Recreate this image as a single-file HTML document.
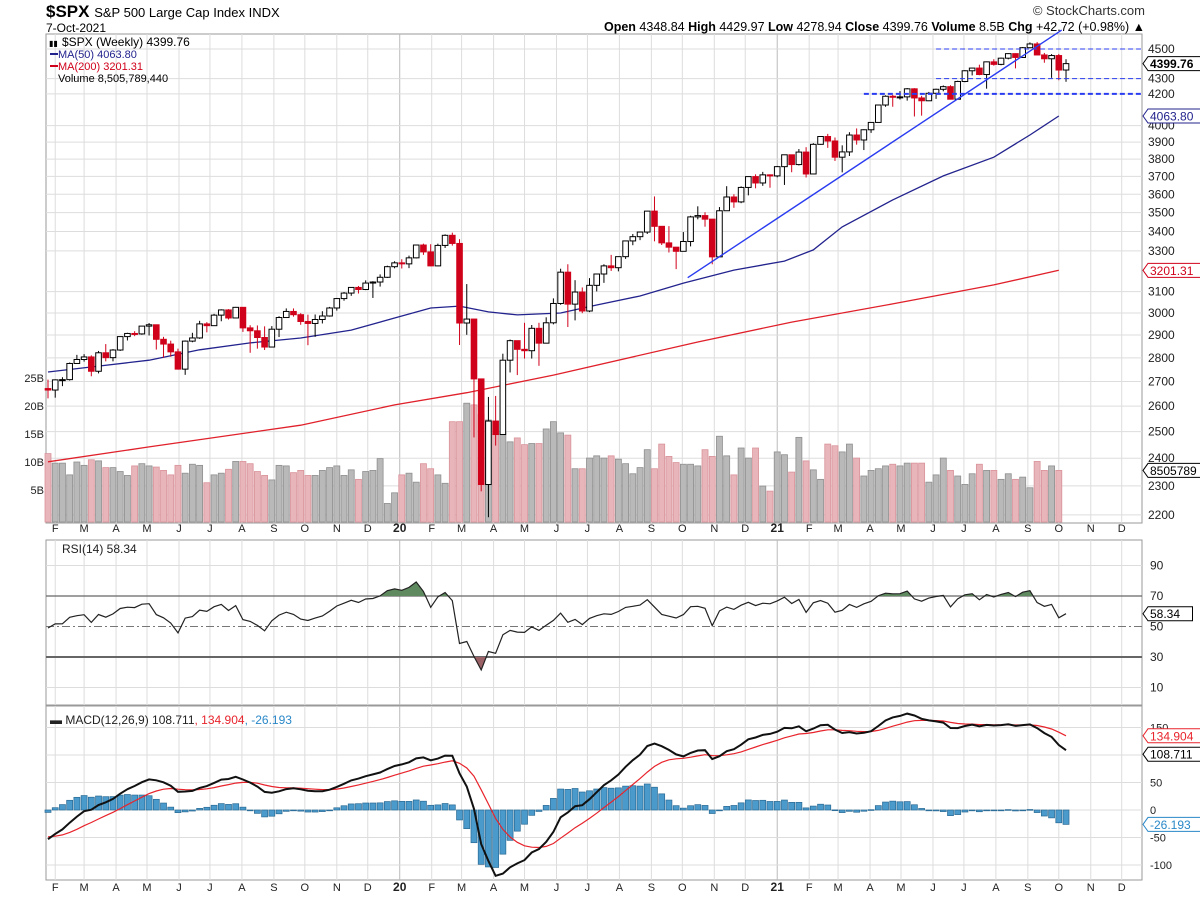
<!DOCTYPE html>
<html><head><meta charset="utf-8"><style>
body{margin:0;background:#fff;font-family:"Liberation Sans",sans-serif}
svg text{font-family:"Liberation Sans",sans-serif}
</style></head><body>
<svg id="c" width="1200" height="901" viewBox="0 0 1200 901" xmlns="http://www.w3.org/2000/svg">
<text x="46" y="17" font-size="17" font-weight="bold">$SPX <tspan font-size="13" font-weight="normal">S&amp;P 500 Large Cap Index INDX</tspan></text>
<text x="46" y="32" font-size="12">7-Oct-2021</text>
<text x="1145" y="15" font-size="13" text-anchor="end" fill="#333">© StockCharts.com</text>
<text x="1145" y="31" font-size="12.5" text-anchor="end"><tspan font-weight="bold">Open</tspan> 4348.84 <tspan font-weight="bold">High</tspan> 4429.97 <tspan font-weight="bold">Low</tspan> 4278.94 <tspan font-weight="bold">Close</tspan> 4399.76 <tspan font-weight="bold">Volume</tspan> 8.5B <tspan font-weight="bold">Chg</tspan> +42.72 (+0.98%) ▲</text>
<g id="g"></g>
</svg>
<script>
const warmupCloses=[2735,2779,2780,2755,2718,2760,2801,2802,2819,2840,2833,2850,2875,2902,2871,2905,2929,2914,2886,2767,2768,2659,2723,2781,2736,2633,2760,2633,2600,2417,2486,2532,2596,2671];
const closes=[2665,2707,2708,2776,2793,2804,2743,2822,2801,2834,2893,2907,2905,2940,2946,2881,2860,2826,2752,2873,2887,2950,2942,2990,3014,2977,3026,2932,2919,2889,2847,2926,2979,3007,2992,2961,2952,2970,2986,3023,3067,3093,3120,3110,3141,3146,3169,3221,3240,
3235,3265,3330,3295,3225,3328,3380,3338,2954,2972,2711,2305,2541,2489,2790,2875,2837,2831,2930,2864,2955,3044,3194,3041,3098,3009,3130,3185,3225,3216,3271,3351,3373,3397,3508,3427,3341,3319,3298,3348,3477,3484,3465,3270,3510,3585,3558,3638,3699,3663,3709,3703,3756,
3825,3768,3841,3714,3887,3934,3907,3811,3842,3943,3913,3975,4020,4129,4185,4180,4181,4233,4174,4156,4204,4230,4247,4166,4281,4352,4370,4327,4412,4395,4437,4468,4442,4509,4535,4459,4433,4455,4357,4400];
const highs=[2708,2709,2718,2780,2813,2816,2811,2830,2860,2838,2894,2910,2917,2940,2954,2937,2892,2875,2840,2876,2910,2964,2958,2996,3017,3018,3028,3027,2944,2943,2939,2940,2985,3021,3021,2999,2992,2993,3008,3028,3070,3098,3121,3127,3154,3150,3183,3226,3248,
3258,3276,3330,3337,3334,3337,3385,3394,3360,3136,2882,2614,2637,2641,2818,2880,2869,2955,2945,2955,2980,3068,3211,3233,3155,3120,3165,3187,3233,3280,3272,3352,3387,3399,3509,3588,3425,3428,3320,3397,3483,3534,3502,3466,3530,3645,3600,3644,3699,3712,3726,3712,3760,
3826,3826,3859,3870,3894,3937,3950,3928,3881,3960,3983,3978,4021,4129,4191,4194,4218,4238,4237,4188,4213,4234,4255,4256,4286,4356,4372,4393,4415,4430,4441,4470,4470,4514,4546,4549,4473,4465,4466,4430];
const lows=[2631,2634,2681,2704,2775,2784,2722,2734,2785,2785,2830,2876,2895,2901,2898,2836,2801,2805,2750,2728,2868,2883,2912,2943,2962,2970,2976,2914,2822,2840,2834,2853,2891,2979,2983,2946,2855,2892,2952,2983,3011,3057,3080,3091,3107,3070,3124,3166,3213,
3212,3214,3262,3280,3223,3223,3315,3327,2856,2901,2478,2281,2192,2447,2500,2738,2727,2797,2797,2766,2864,2948,3038,2936,2966,2999,3004,3101,3142,3200,3198,3260,3329,3355,3387,3349,3330,3292,3209,3323,3323,3464,3425,3233,3279,3511,3526,3551,3594,3633,3647,3636,3695,
3652,3724,3763,3694,3725,3885,3866,3789,3723,3818,3885,3853,3956,4020,4118,4118,4164,4157,4057,4062,4154,4168,4217,4165,4165,4276,4321,4322,4234,4386,4389,4429,4368,4441,4506,4458,4406,4305,4289,4279];
const volumesB=[11.5,9.8,9.8,7.7,10,9.4,10.4,10.2,9,9,8.3,7.6,9.3,9.7,9.3,9.1,8.5,7.7,9.4,8.0,9.6,9.4,6.3,7.7,8.0,8.7,10.1,10.1,9.7,8.3,7.6,6.8,9.4,9.3,8.1,8.5,7.6,7.6,8.5,9.0,9.3,7.6,8.6,6.9,8.3,8.5,10.6,2.6,4.5,
7.7,8.0,6.4,9.7,8.8,7.7,6.2,17.2,17.2,20.5,20.2,18.5,17.5,15.0,15.4,13.6,14.3,13.1,13.3,13.3,15.9,17.2,15.2,14.8,8.8,
8.8,10.7,11.1,10.7,11.1,10.5,9.7,7.9,9.0,12.2,8.8,13.2,11.0,9.9,9.6,9.6,9.3,12.2,11.0,14.6,11.1,7.7,12.5,10.7,12.5,5.7,4.8,11.8,11.3,8.2,14.4,10.2,8.6,6.9,13.2,12.9,11.8,13.2,10.7,7.5,8.5,8.8,9.3,9.6,9.3,9.8,9.8,9.8,6.4,7.7,10.7,8.5,7.5,6.0,7.9,9.6,8.5,8.5,6.9,7.9,6.9,7.3,5.4,10.1,8.5,9.3,8.5];
const ma50Weeks=[0,7,14,21,28,35,42,48,53,57,61,65,71,76,82,88,95,102,106,110,117,124,131,136,140];
const ma50Values=[2740,2765,2790,2835,2865,2887,2922,2977,3023,3032,3005,2991,3000,3037,3079,3141,3204,3249,3305,3424,3569,3703,3811,3943,4060];
const ma200Weeks=[0,14,35,48,58,70,90,103,117,131,140];
const ma200Values=[2387,2442,2525,2605,2654,2727,2869,2958,3042,3132,3203];
const priceTicks=[4500,4300,4200,4000,3900,3800,3700,3600,3500,3400,3300,3100,3000,2900,2800,2700,2600,2500,2400,2300,2200];
const volTicks=[25,20,15,10,5];
const monthLabels=["F","M","A","M","J","J","A","S","O","N","D","20","F","M","A","M","J","J","A","S","O","N","D","21","F","M","A","M","J","J","A","S","O","N","D"];
const monthStarts=["2019-02-01","2019-03-01","2019-04-01","2019-05-01","2019-06-01","2019-07-01","2019-08-01","2019-09-01","2019-10-01","2019-11-01","2019-12-01","2020-01-01","2020-02-01","2020-03-01","2020-04-01","2020-05-01","2020-06-01","2020-07-01","2020-08-01","2020-09-01","2020-10-01","2020-11-01","2020-12-01","2021-01-01","2021-02-01","2021-03-01","2021-04-01","2021-05-01","2021-06-01","2021-07-01","2021-08-01","2021-09-01","2021-10-01","2021-11-01","2021-12-01"];
const rsiTicks=[90,70,50,30,10];
const macdTicks=[150,100,50,0,-50,-100];
const trendStart=[88.6,3167], trendEnd=[140.4,4633];

const NS="http://www.w3.org/2000/svg";
const G=document.getElementById('g');
const L=46,R=1142, PT=34,PB=523, RT=540,RB=705, MT=706,MB=880;
const step=7.22;
const X=i=>48+i*step;
const t0=Date.UTC(2019,0,25);
const XD=s=>{const d=new Date(s+"T00:00:00Z");return 48+(d-t0)/864e5/7*step;};
const PY=p=>49+651*Math.log(4500/p);
const VY=v=>518-5.6*v;
const RY=v=>596+(70-v)*1.525;
const MY=v=>810-v*0.55;
function el(tag,attrs,parent){const e=document.createElementNS(NS,tag);for(const k in attrs)e.setAttribute(k,attrs[k]);(parent||G).appendChild(e);return e;}
function txt(s,attrs){const e=el('text',attrs);e.textContent=s;return e;}

[[PT,PB,'price-panel'],[RT,RB,'rsi-panel'],[MT,MB,'macd-panel']].forEach(([t,b,n])=>{
  const r=el('rect',{x:L,y:t,width:R-L,height:b-t,fill:'#fff',stroke:'#999','stroke-width':1});
  
  
});
monthStarts.forEach((d,k)=>{
  const x=XD(d);
  [[PT,PB],[RT,RB],[MT,MB]].forEach(([t,b])=>{
    const ln=el('line',{x1:x,x2:x,y1:t,y2:b,stroke:k==11||k==23?'#bbb':'#ddd','stroke-width':1});
    
    
  });
  [532,891].forEach(y=>{
    const t=txt(monthLabels[k],{x:x,y:y,'font-size':k==11||k==23?12:11,'font-weight':k==11||k==23?'bold':'normal','text-anchor':'middle',fill:'#222'});
    
    
  });
});
priceTicks.forEach(p=>{
  const y=PY(p);
  const ln=el('line',{x1:L,x2:R,y1:y,y2:y,stroke:'#ddd'});
  
  
  const t=txt(String(p),{x:1148,y:y+4,'font-size':12,fill:'#222'});
  
  
});
volTicks.forEach(v=>{
  const t=txt(v+'B',{x:44,y:VY(v)+4,'font-size':11,'text-anchor':'end',fill:'#222'});
  
  
});
volumesB.forEach((v,i)=>{
  const prev=i?closes[i-1]:warmupCloses[warmupCloses.length-1];
  const down=closes[i]<prev;
  const r=el('rect',{x:X(i)-3,y:VY(v),width:6,height:522-VY(v),fill:down?'#e7b5ba':'#b9b9b9',stroke:down?'#d9939a':'#8f8f8f','stroke-width':0.8});
  
  
});
function poly(ws,vs,color,name,w){
  const d=ws.map((k,j)=>(j?'L':'M')+X(k).toFixed(1)+','+PY(vs[j]).toFixed(1)).join('');
  const p=el('path',{d:d,fill:'none',stroke:color,'stroke-width':w||1.3});
  
  
}
poly(ma200Weeks,ma200Values,'#e0202a','ma200-line');
poly(ma50Weeks,ma50Values,'#23238e','ma50-line');
closes.forEach((c,i)=>{
  const o=i?closes[i-1]:warmupCloses[warmupCloses.length-1];
  const down=c<o, col=down?'#d0021b':'#000';
  const x=X(i);
  const w=el('line',{x1:x,x2:x,y1:PY(highs[i]),y2:PY(lows[i]),stroke:col,'stroke-width':1});
  
  
  const top=PY(Math.max(o,c)),bot=PY(Math.min(o,c));
  const b=el('rect',{x:x-2.8,y:top,width:5.6,height:Math.max(1,bot-top),fill:down?col:'#fff',stroke:col,'stroke-width':1});
  
  
});
const tl=el('line',{x1:X(trendStart[0]),y1:PY(trendStart[1]),x2:X(trendEnd[0]),y2:PY(trendEnd[1]),stroke:'#2a3cf0','stroke-width':1.4});


[[4500,123,1],[4300,123,1],[4200,113,2]].forEach(([p,k,w])=>{
  const ln=el('line',{x1:X(k),x2:R,y1:PY(p),y2:PY(p),stroke:'#2a3cf0','stroke-width':w,'stroke-dasharray':'5,3'});
  
  
});
function tag(y,s,color,bold,name){
  const w=s.length*7.3+8;
  const p=el('path',{d:`M1143,${y} L1148,${y-7} L${1148+w},${y-7} L${1148+w},${y+7} L1148,${y+7} Z`,fill:'#fff',stroke:color,'stroke-width':1});
  
  
  const t=txt(s,{x:1150,y:y+4.5,'font-size':12,'font-weight':bold?'bold':'normal',fill:color});
  
  
}
tag(PY(closes[closes.length-1]),'4399.76','#000',true,'last-price');
tag(PY(ma50Values[ma50Values.length-1]),'4063.80','#23238e',false,'ma50');
tag(PY(ma200Values[ma200Values.length-1]),'3201.31','#d0021b',false,'ma200');
tag(VY(volumesB[volumesB.length-1]),'8505789','#000',false,'volume');
[['$SPX (Weekly) 4399.76','#000',46],['MA(50) 4063.80','#23238e',58],['MA(200) 3201.31','#d0021b',70],['Volume 8,505,789,440','#000',82]].forEach(([s,c,y],k)=>{
  if(k==1||k==2){const m=el('line',{x1:50,x2:58,y1:y-4,y2:y-4,stroke:c,'stroke-width':2});}
  const t=txt(s,{x:k==0?62:58,y:y,'font-size':k==0?12:11,fill:c});
  
  
});
txt('▮▮',{x:49,y:46,'font-size':8});

const all=warmupCloses.concat(closes), W=warmupCloses.length;
const rsi=[];let ag=0,al=0;
for(let i=1;i<all.length;i++){const d=all[i]-all[i-1],g=Math.max(d,0),l=Math.max(-d,0);
  if(i<=14){ag+=g/14;al+=l/14;}else{ag=(ag*13+g)/14;al=(al*13+l)/14;}
  if(i>=W) rsi[i-W]=al==0?100:100-100/(1+ag/al);}
rsiTicks.forEach(v=>{
  const y=RY(v), strong=v==70||v==30;
  const ln=el('line',{x1:L,x2:R,y1:y,y2:y,stroke:strong?'#666':v==50?'#777':'#ddd','stroke-width':v==30?2:strong?1.3:1,'stroke-dasharray':v==50?'8,3,2,3':'none'});
  
  
  const t=txt(String(v),{x:1150,y:y+4,'font-size':12,fill:'#222'});
  
  
});
const defs=el('defs',{});
el('rect',{x:L,y:RT,width:R-L,height:RY(70)-RT},el('clipPath',{id:'ob'},defs));
el('rect',{x:L,y:RY(30),width:R-L,height:RB-RY(30)},el('clipPath',{id:'os'},defs));
const rpts=rsi.map((v,i)=>X(i).toFixed(1)+','+RY(v).toFixed(1));
const fa=el('path',{d:`M${X(0)},${RY(70)}L${rpts.join('L')}L${X(rsi.length-1)},${RY(70)}Z`,fill:'#5f8a5f','clip-path':'url(#ob)'});


const fb=el('path',{d:`M${X(0)},${RY(30)}L${rpts.join('L')}L${X(rsi.length-1)},${RY(30)}Z`,fill:'#9a6266','clip-path':'url(#os)'});


const rl=el('path',{d:'M'+rpts.join('L'),fill:'none',stroke:'#222','stroke-width':1.2});


txt('RSI(14) 58.34',{x:62,y:553,'font-size':12,fill:'#222'});
tag(RY(rsi[rsi.length-1]),'58.34','#000',false,'rsi');

function ema(arr,n){const k=2/(n+1);const o=[arr[0]];for(let i=1;i<arr.length;i++)o.push(arr[i]*k+o[i-1]*(1-k));return o;}
const e12=ema(all,12),e26=ema(all,26);
const macdAll=e12.map((v,i)=>v-e26[i]);
const sigAll=ema(macdAll,9);
const macd=macdAll.slice(W),sig=sigAll.slice(W);
macdTicks.forEach(v=>{
  const y=MY(v);
  const ln=el('line',{x1:L,x2:R,y1:y,y2:y,stroke:'#ddd'});
  
  
  const t=txt(String(v),{x:1150,y:y+4,'font-size':11,fill:'#222'});
  
  
});
macd.forEach((m,i)=>{
  const h=m-sig[i];
  const y1=MY(Math.max(h,0)),y2=MY(Math.min(h,0));
  const r=el('rect',{x:X(i)-3,y:y1,width:6,height:Math.max(0.8,y2-y1),fill:'#4a9acb',stroke:'#2a6a94','stroke-width':0.7});
  
  
});
const sl=el('path',{d:'M'+sig.map((v,i)=>X(i).toFixed(1)+','+MY(v).toFixed(1)).join('L'),fill:'none',stroke:'#e8242c','stroke-width':1.2});


const ml=el('path',{d:'M'+macd.map((v,i)=>X(i).toFixed(1)+','+MY(v).toFixed(1)).join('L'),fill:'none',stroke:'#111','stroke-width':2});


const mt=txt('',{x:50,y:724,'font-size':12,fill:'#222'});


mt.innerHTML='<tspan font-weight="bold">▬</tspan> MACD(12,26,9) 108.711<tspan fill="#e8242c">, 134.904</tspan><tspan fill="#2a88c8">, -26.193</tspan>';
tag(MY(sig[sig.length-1]),'134.904','#e8242c',false,'macd-signal');
tag(MY(macd[macd.length-1])+4,'108.711','#000',false,'macd');
tag(MY(macd[macd.length-1]-sig[sig.length-1]),'-26.193','#2a88c8',false,'macd-hist');
</script>
</body></html>
